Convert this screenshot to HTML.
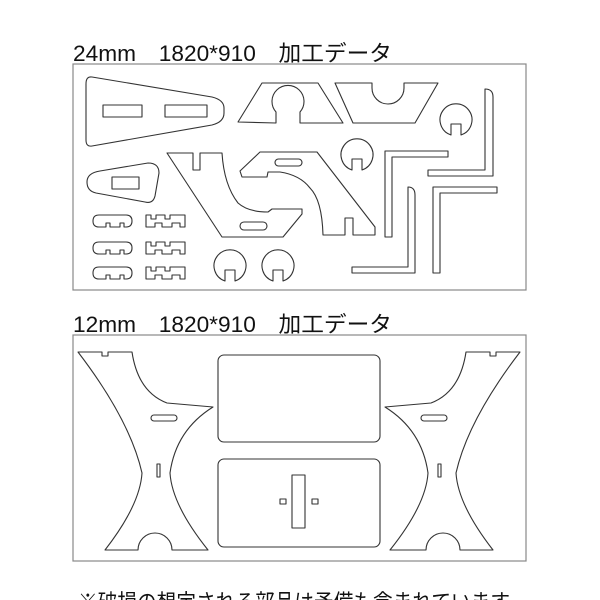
<!DOCTYPE html>
<html><head><meta charset="utf-8"><style>
html,body{margin:0;padding:0;background:#fff;width:600px;height:600px;overflow:hidden}
svg{display:block}
text{font-family:"Liberation Sans","Noto Sans CJK JP",sans-serif;fill:#111}
.p{fill:none;stroke:#333;stroke-width:1.1;stroke-linejoin:round}
.b{fill:none;stroke:#888;stroke-width:1.2}
</style></head><body>
<svg width="600" height="600" viewBox="0 0 600 600" xmlns="http://www.w3.org/2000/svg">
<defs>
<g id="c"><path class="p" d="M-5,15 L-5,4 L5,4 L5,15 A16,16 0 1 0 -5,15 Z"/></g>
<g id="pill"><path class="p" d="M99,215 L126,215 Q132,215 132,221 Q132,227 126,227 L124,227 L124,223 L120,223 L120,227 L110,227 L110,223 L106,223 L106,227 L99,227 Q93,227 93,221 Q93,215 99,215 Z"/>
<path class="p" d="M146,215 L151,215 L151,219 L156,219 L156,215 L165,215 L165,219 L170,219 L170,215 L185,215 L185,227 L180,227 L180,223 L172,223 L172,227 L162,227 L162,223 L155,223 L155,227 L146,227 Z"/></g>
<g id="leg">
<path class="p" d="M78,352 L102,352 L102,356 L108,356 L108,352 L132,352 Q138,392 167,403 L213,407 Q176,430 170,473 Q172,505 208,550 L172,550 A17,17 0 1 0 138,550 L105,550 Q140,505 142,473 Q130,420 78,352 Z"/>
<rect class="p" x="151" y="415" width="26" height="6" rx="3"/>
<rect class="p" x="157" y="464" width="3" height="13"/>
</g>
</defs>
<text x="73" y="61" font-size="22" textLength="319" lengthAdjust="spacingAndGlyphs">24mm　1820*910　加工データ</text>
<rect class="b" x="73" y="64" width="453" height="226"/>
<path class="p" d="M92,77 L212,97 Q224,100 224,108 L224,113 Q224,122 212,125 L92,146 Q86,147 86,140 L86,84 Q86,76 92,77 Z"/>
<rect class="p" x="103" y="105" width="39" height="12"/>
<rect class="p" x="165" y="105" width="42" height="12"/>
<path class="p" d="M100,171 L148,163 Q159,163 159,173 L155,196 Q153,204 145,202 L96,193 Q87,191 87,182 Q87,173 100,171 Z"/>
<rect class="p" x="112" y="177" width="27" height="12"/>
<use href="#pill"/><use href="#pill" y="27"/><use href="#pill" y="52"/>
<path class="p" d="M262,83 L318,83 L343,123 L300,123 L300,112 A16,16 0 1 0 276,112 L276,123 L238,122 Z"/>
<path class="p" d="M335,83 L372,83 L372,88 A16,16 0 0 0 404,88 L404,83 L438,83 L415,123 L353,123 Z"/>
<use href="#c" x="456" y="120"/><use href="#c" x="357" y="155"/>
<use href="#c" x="230" y="266"/><use href="#c" x="278" y="266"/>
<path class="p" d="M167,153 L193,153 L193,170 L200,170 L200,153 L222,153 Q224,185 238,203 Q248,212 268,212 L272,209 L302,209 L302,214 L283,237 L222,237 Z"/>
<rect class="p" x="240" y="222" width="27" height="8" rx="4"/>
<path class="p" d="M260,152 L317,152 L375,227 L375,235 L353,235 L353,218 L345,218 L345,235 L323,235 Q322,200 310,188 Q300,175 280,172 L268,172 L267,177 L242,177 L240,171 Z"/>
<rect class="p" x="275" y="159" width="27" height="7" rx="3.5"/>
<path class="p" d="M485,89 Q493,89 493,97 L493,176 L428,176 L428,170 L485,170 Z"/>
<path class="p" d="M392,237 L385,237 L385,151 L448,151 L448,157 L392,157 Z"/>
<path class="p" d="M408,187 Q415,187 415,195 L415,273 L352,273 L352,267 L408,267 Z"/>
<path class="p" d="M440,273 L433,273 L433,187 L497,187 L497,193 L440,193 Z"/>
<text x="73" y="332" font-size="22" textLength="319" lengthAdjust="spacingAndGlyphs">12mm　1820*910　加工データ</text>
<rect class="b" x="73" y="335" width="453" height="226"/>
<use href="#leg"/>
<use href="#leg" transform="translate(598,0) scale(-1,1)"/>
<rect class="p" x="218" y="355" width="162" height="87" rx="6"/>
<rect class="p" x="218" y="459" width="162" height="88" rx="6"/>
<rect class="p" x="292" y="475" width="13" height="53"/>
<rect class="p" x="280" y="499" width="6" height="5"/>
<rect class="p" x="312" y="499" width="6" height="5"/>
<text x="78" y="610" font-size="22" textLength="432" lengthAdjust="spacingAndGlyphs">※破損の想定される部品は予備も含まれています</text>
</svg>
</body></html>
